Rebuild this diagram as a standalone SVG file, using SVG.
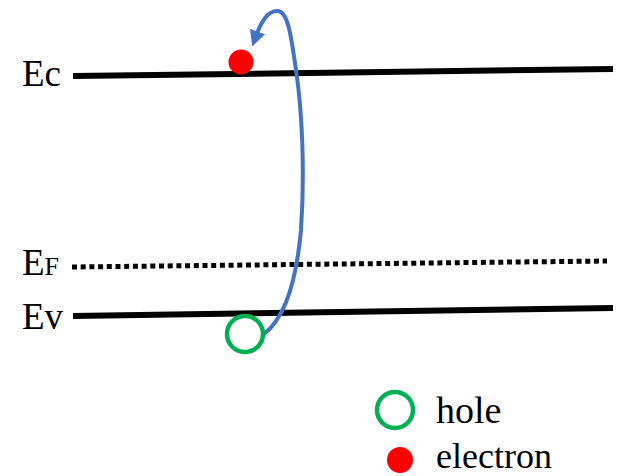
<svg xmlns="http://www.w3.org/2000/svg" width="619" height="476" viewBox="0 0 619 476">
<defs>
<style>
.lbl{font-family:"Liberation Serif","Times New Roman",serif;fill:#000}
.band{stroke:#000;stroke-width:6;fill:none}
.hole{fill:none;stroke:#00B050;stroke-width:4.5}
.el{fill:#FF0000}
</style>
<marker id="arr" viewBox="0 0 10 10" refX="3" refY="5" markerWidth="4" markerHeight="4" orient="auto" markerUnits="strokeWidth">
<path d="M0,0 L10,5 L0,10 z" fill="#4472C4"/>
</marker>
</defs>
<rect width="619" height="476" fill="#fff"/>
<g id="bands">
<line class="band" x1="73" y1="76" x2="613" y2="69"/>
<line x1="72" y1="267" x2="607" y2="261" stroke="#000" stroke-width="5" stroke-dasharray="5 3.7"/>
<line class="band" x1="73" y1="316" x2="613" y2="308"/>
</g>
<g id="labels">
<text class="lbl" x="22" y="86" font-size="37">Ec</text>
<text class="lbl" x="22" y="275" font-size="37">E<tspan font-size="26">F</tspan></text>
<text class="lbl" x="22" y="329" font-size="37">Ev</text>
</g>
<g id="connectors">
<path d="M263,335 C280,322 295,295 301,230 C305,170 302,110 296,70 C291,35 288,12 278,11 C268,10 261,22 256,36" fill="none" stroke="#4472C4" stroke-width="4" marker-end="url(#arr)"/>
</g>
<g id="electron">
<circle class="el" cx="241" cy="62" r="12.5"/>
</g>
<g id="hole">
<circle class="hole" cx="245" cy="334" r="18"/>
</g>
<g id="legend">
<circle class="hole" cx="395" cy="410" r="18"/>
<text class="lbl" x="436" y="423" font-size="38">hole</text>
<circle class="el" cx="400" cy="460" r="13"/>
<text class="lbl" x="436" y="468" font-size="36">electron</text>
</g>
</svg>
